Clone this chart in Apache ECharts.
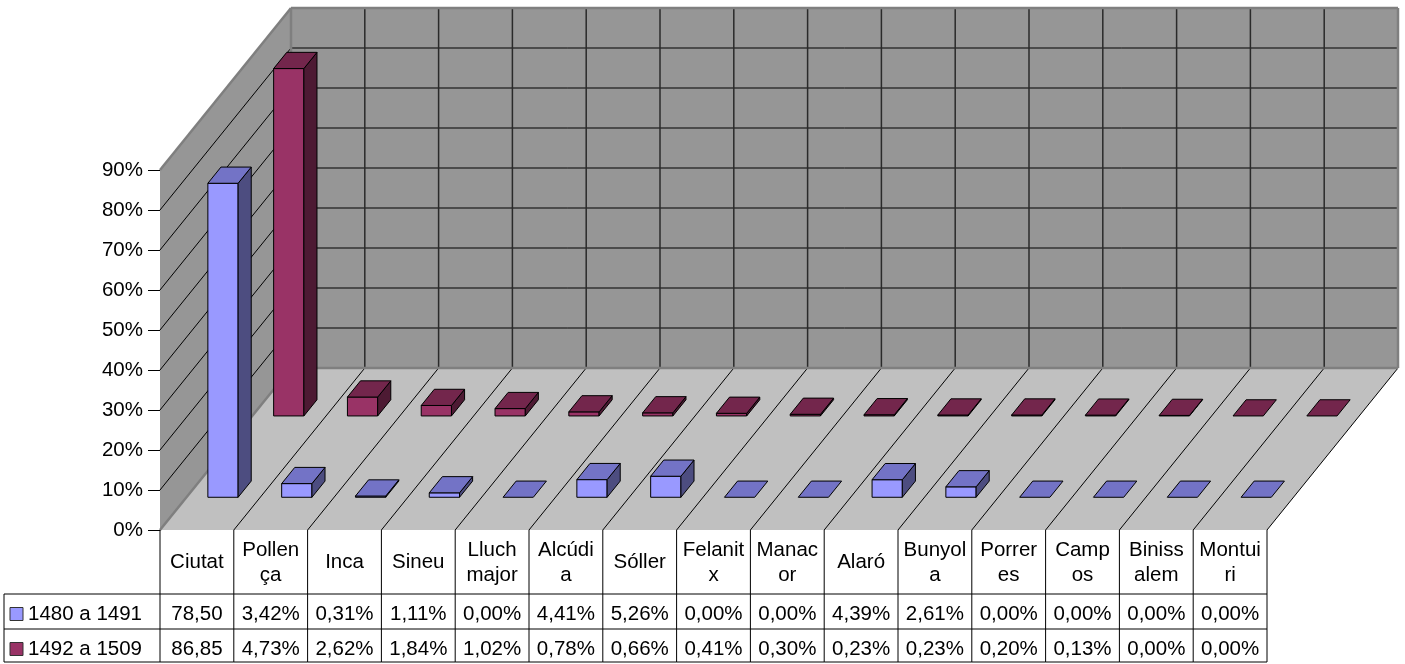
<!DOCTYPE html>
<html>
<head>
<meta charset="utf-8">
<script src="https://cdn.jsdelivr.net/npm/echarts@6/dist/echarts.min.js"></script>
<style>
html,body{margin:0;padding:0;background:#fff;}
#chart{width:1405px;height:664px;}
</style>
</head>
<body>
<div id="chart"></div>
<script>
// ---- data ----
const categories = ['Ciutat','Pollença','Inca','Sineu','Lluch major','Alcúdia','Sóller','Felanitx','Manacor','Alaró','Bunyola','Porreres','Campos','Binissalem','Montuiri'];
const headerLabels = ['Ciutat','Pollen\nça','Inca','Sineu','Lluch\nmajor','Alcúdi\na','Sóller','Felanit\nx','Manac\nor','Alaró','Bunyol\na','Porrer\nes','Camp\nos','Biniss\nalem','Montui\nri'];
const seriesNames = ['1480 a 1491','1492 a 1509'];
const values1480 = [78.50,3.42,0.31,1.11,0.00,4.41,5.26,0.00,0.00,4.39,2.61,0.00,0.00,0.00,0.00];
const values1492 = [86.85,4.73,2.62,1.84,1.02,0.78,0.66,0.41,0.30,0.23,0.23,0.20,0.13,0.00,0.00];
const labels1480 = ['78,50','3,42%','0,31%','1,11%','0,00%','4,41%','5,26%','0,00%','0,00%','4,39%','2,61%','0,00%','0,00%','0,00%','0,00%'];
const labels1492 = ['86,85','4,73%','2,62%','1,84%','1,02%','0,78%','0,66%','0,41%','0,30%','0,23%','0,23%','0,20%','0,13%','0,00%','0,00%'];
const yMin = 0, yMax = 90, yStep = 10;

// ---- style / layout constants ----
const FONT = "'Liberation Sans', Arial, sans-serif";
const FS = 20.5;
const DX = 131, DY = 162;          // depth projection in px
const BAR_L = 0.29, BAR_R = 0.70;  // bar span inside category
const BAR_D = 0.1;                 // bar depth
const ROW_D = [0.202, 0.704];      // depth of each series row
const COLORS = [
  {front:'#9999FF', top:'#7373C6', side:'#4D4D80'},
  {front:'#993366', top:'#73264C', side:'#4D1A33'}
];
const N = categories.length;

function P(api, x, y, d){
  const p = api.coord([x, y]);
  return [p[0] + DX*d, p[1] - DY*d];
}

function frameRender(params, api){
  const ch = [];
  ch.push({type:'polygon', shape:{points:[P(api,0,yMin,0),P(api,0,yMax,0),P(api,0,yMax,1),P(api,0,yMin,1)]}, style:{fill:'#969696', stroke:null}});
  ch.push({type:'polygon', shape:{points:[P(api,0,yMin,1),P(api,N,yMin,1),P(api,N,yMax,1),P(api,0,yMax,1)]}, style:{fill:'#969696', stroke:null}});
  ch.push({type:'polygon', shape:{points:[P(api,0,yMin,0),P(api,N,yMin,0),P(api,N,yMin,1),P(api,0,yMin,1)]}, style:{fill:'#C0C0C0', stroke:null}});
  for (let v = yMin + yStep; v < yMax; v += yStep){
    const a = P(api,0,v,0), b = P(api,0,v,1);
    ch.push({type:'line', shape:{x1:a[0],y1:a[1],x2:b[0],y2:b[1]}, style:{stroke:'#000', lineWidth:1}});
  }
  for (let v = yMin + yStep; v < yMax; v += yStep){
    const a = P(api,0,v,1), b = P(api,N,v,1);
    ch.push({type:'line', shape:{x1:a[0],y1:a[1],x2:b[0],y2:b[1]}, style:{stroke:'#000', lineWidth:1}});
  }
  for (let k = 1; k < N; k++){
    const a = P(api,k,yMin,1), b = P(api,k,yMax,1);
    ch.push({type:'line', shape:{x1:a[0],y1:a[1],x2:b[0],y2:b[1]}, style:{stroke:'#2a2a2a', lineWidth:1.5}});
  }
  for (let k = 1; k <= N; k++){
    const a = P(api,k,yMin,0), b = P(api,k,yMin,1);
    ch.push({type:'line', shape:{x1:a[0],y1:a[1],x2:b[0],y2:b[1]}, style:{stroke:'#000', lineWidth:1}});
  }
  const edges = [
    [P(api,0,yMax,0),P(api,0,yMax,1)],
    [P(api,0,yMax,1),P(api,N,yMax,1)],
    [P(api,N,yMax,1),P(api,N,yMin,1)],
    [P(api,0,yMin,1),P(api,N,yMin,1)],
    [P(api,0,yMin,0),P(api,0,yMin,1)],
    [P(api,0,yMin,1),P(api,0,yMax,1)]
  ];
  edges.forEach(e => ch.push({type:'line', shape:{x1:e[0][0],y1:e[0][1],x2:e[1][0],y2:e[1][1]}, style:{stroke:'#7f7f7f', lineWidth:2.5}}));
  return {type:'group', children:ch};
}

function barRender(row){
  return function(params, api){
    const i = api.value(0), v = api.value(1);
    const c = COLORS[row];
    const x0 = i + BAR_L, x1 = i + BAR_R;
    const d0 = ROW_D[row], d1 = ROW_D[row] + BAR_D;
    const fbl = P(api,x0,0,d0), fbr = P(api,x1,0,d0), ftl = P(api,x0,v,d0), ftr = P(api,x1,v,d0);
    const btl = P(api,x0,v,d1), btr = P(api,x1,v,d1), bbr = P(api,x1,0,d1);
    const st = {stroke:'#000', lineWidth:1, lineJoin:'round'};
    const ch = [];
    if (v > 0){
      ch.push({type:'polygon', shape:{points:[fbl,fbr,ftr,ftl]}, style:Object.assign({fill:c.front}, st)});
      ch.push({type:'polygon', shape:{points:[fbr,bbr,btr,ftr]}, style:Object.assign({fill:c.side}, st)});
    }
    ch.push({type:'polygon', shape:{points:[ftl,ftr,btr,btl]}, style:Object.assign({fill:c.top}, st)});
    return {type:'group', children:ch};
  };
}

const ROW_H = [64, 35, 33];
function tableRender(params, api){
  const i = api.value(0);
  const ch = [];
  const xl = api.coord([i, 0])[0], xr = api.coord([i+1, 0])[0];
  const top = api.coord([0, yMin])[1];
  const r1 = top + ROW_H[0], r2 = r1 + ROW_H[1], r3 = r2 + ROW_H[2];
  const cx = (xl + xr) / 2;
  const ls = {stroke:'#000', lineWidth:1};
  const ts = {fill:'#000', fontSize:FS, fontFamily:FONT, align:'center', verticalAlign:'middle', lineHeight:25};
  ch.push({type:'line', shape:{x1:xl,y1:top,x2:xl,y2:r3}, style:ls});
  if (i === N-1) ch.push({type:'line', shape:{x1:xr,y1:top,x2:xr,y2:r3}, style:ls});
  [r1, r2, r3].forEach(y => ch.push({type:'line', shape:{x1:xl,y1:y,x2:xr,y2:y}, style:ls}));
  ch.push({type:'text', style:Object.assign({text:headerLabels[i], x:cx, y:(top+r1)/2 + 0.5}, ts)});
  ch.push({type:'text', style:Object.assign({text:labels1480[i], x:cx, y:(r1+r2)/2 + 2.5}, ts)});
  ch.push({type:'text', style:Object.assign({text:labels1492[i], x:cx, y:(r2+r3)/2 + 3.5}, ts)});
  if (i === 0){
    const lx = 4;
    ch.push({type:'line', shape:{x1:lx,y1:r1,x2:xl,y2:r1}, style:ls});
    ch.push({type:'line', shape:{x1:lx,y1:r2,x2:xl,y2:r2}, style:ls});
    ch.push({type:'line', shape:{x1:lx,y1:r3,x2:xl,y2:r3}, style:ls});
    ch.push({type:'line', shape:{x1:lx,y1:r1,x2:lx,y2:r3}, style:ls});
    [[r1,r2,2.5],[r2,r3,3.5]].forEach((rr, k) => {
      const cy = (rr[0]+rr[1])/2 + rr[2];
      ch.push({type:'rect', shape:{x:10, y:cy-6.5, width:13, height:13}, style:{fill:COLORS[k].front, stroke:'#333', lineWidth:1}});
      ch.push({type:'text', style:{text:seriesNames[k], x:28, y:cy, fill:'#000', fontSize:FS, fontFamily:FONT, align:'left', verticalAlign:'middle'}});
    });
  }
  return {type:'group', children:ch};
}

const chart = echarts.init(document.getElementById('chart'), null, {renderer:'canvas'});
chart.setOption({
  animation:false,
  backgroundColor:'#fff',
  grid:{left:160, right:138, top:170, bottom:134, containLabel:false},
  xAxis:{type:'value', min:0, max:N, show:false},
  yAxis:{type:'value', min:yMin, max:yMax, interval:yStep,
    axisLine:{show:true, lineStyle:{color:'#000', width:1}},
    axisTick:{show:true, inside:false, length:12, lineStyle:{color:'#000'}},
    axisLabel:{show:true, margin:17, color:'#000', fontSize:FS, fontFamily:FONT, formatter: v => v + '%'},
    splitLine:{show:false}
  },
  series:[
    {type:'custom', name:'frame', z:1, silent:true, clip:false, data:[[0,0]], renderItem:frameRender, encode:{x:0,y:1}},
    {type:'custom', name:seriesNames[1], z:2, silent:true, clip:false, data:values1492.map((v,i)=>[i,v]), renderItem:barRender(1), encode:{x:0,y:1}},
    {type:'custom', name:seriesNames[0], z:3, silent:true, clip:false, data:values1480.map((v,i)=>[i,v]), renderItem:barRender(0), encode:{x:0,y:1}},
    {type:'custom', name:'table', z:4, silent:true, clip:false, data:categories.map((c,i)=>[i,0]), renderItem:tableRender, encode:{x:0,y:1}}
  ]
});
</script>
</body>
</html>
